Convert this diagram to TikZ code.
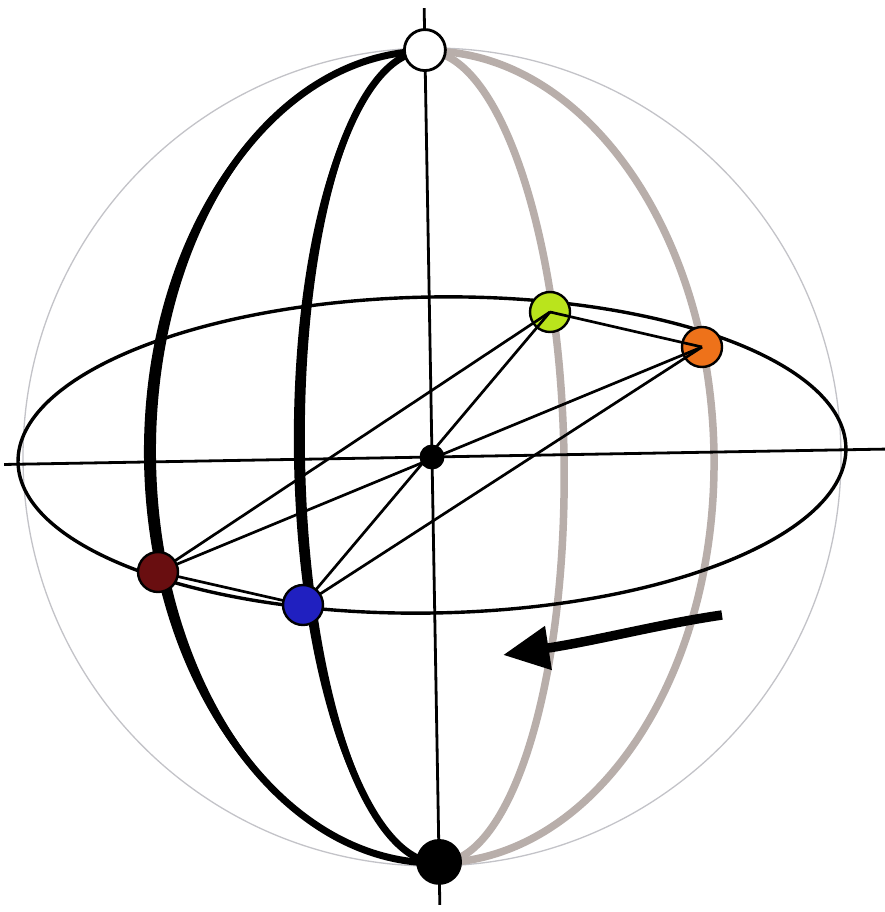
\documentclass[tikz,border=0pt]{standalone}
\usetikzlibrary{arrows.meta}
\definecolor{ballred}{RGB}{105,14,16}
\definecolor{ballblue}{RGB}{32,32,192}
\definecolor{ballgreen}{RGB}{186,228,28}
\definecolor{ballorange}{RGB}{238,114,26}
\definecolor{backgray}{RGB}{184,174,170}
\definecolor{spheregray}{RGB}{195,195,200}
\begin{document}
\begin{tikzpicture}[x=1pt,y=-1pt,
  ball/.style={circle,draw=black,line width=2.4pt,inner sep=0pt,minimum size=40pt},
  pole/.style={circle,draw=black,line width=2.8pt,inner sep=0pt},
  chord/.style={line width=2.7pt,black},
  axisline/.style={line width=2.8pt,black},
  frontmer/.style={line width=7pt,black},
  backmer/.style={line width=7.5pt,backgray},
  turn/.style={line width=9.5pt,black,-{Triangle[length=46pt,width=42pt]}}]
\useasboundingbox (0,0) rectangle (885,912);
\fill[white] (0,0) rectangle (885,912);

\begin{scope}[shift={(432,457)},rotate=1,x=1pt,y=1pt]
  % sphere outline
  \draw[spheregray,line width=1.3pt] (0,0) circle[radius=409];
  % back (grey) halves of the meridians
  \draw[backmer] (0,406) arc[start angle=90,end angle=-90,x radius=132,y radius=406];
  \draw[backmer] (0,406) arc[start angle=90,end angle=-90,x radius=282,y radius=406];
  % axes
  \coordinate (axT) at (0,449);
  \coordinate (axB) at (0,-448);
  \coordinate (axL) at (-428,0);
  \coordinate (axR) at (455,0);
  \draw[axisline] (axT) -- (axB);
  \draw[axisline] (axL) -- (axR);
  % equator
  \draw[line width=3.4pt] (0,2) ellipse[x radius=414,y radius=158];
  % front (black) halves of the meridians, tapering towards the poles
  \fill[black] (0,406) arc[start angle=90,end angle=270,x radius=288,y radius=406]
               arc[start angle=270,end angle=90,x radius=276,y radius=406] -- cycle;
  \fill[black] (0,406) arc[start angle=90,end angle=270,x radius=138,y radius=406]
               arc[start angle=270,end angle=90,x radius=127,y radius=406] -- cycle;
  \draw[frontmer] (0,406) arc[start angle=90,end angle=270,x radius=282,y radius=406];
  \draw[frontmer] (0,406) arc[start angle=90,end angle=270,x radius=132.5,y radius=406];
  \coordinate (Npos) at (0,407);
  \coordinate (Spos) at (0,-405);
\end{scope}

% rotation arrow
\coordinate (arA) at (722,615);
\coordinate (arB) at (503,655);
\draw[turn] (arA) .. controls (660,624) and (600,640) .. (arB);

% balls behind the chords
\node[ball,fill=ballgreen] (G) at (550,312) {};
\node[ball,fill=ballorange] (O) at (702,347) {};

% chords
\draw[chord] (G.center) -- (O.center);
\draw[chord] (158,572) coordinate (Rc) -- (O.center);
\draw[chord] (303,605) coordinate (Bc) -- (G.center);
\draw[chord] (Rc) -- (G.center);
\draw[chord] (Bc) -- (O.center);
\draw[chord] (Rc) -- (Bc);

% balls in front
\node[ball,fill=ballred] (R) at (Rc) {};
\node[ball,fill=ballblue] (B) at (Bc) {};
\node[circle,fill=black,inner sep=0pt,minimum size=25pt] (C) at (432,457) {};
\node[pole,fill=white,minimum size=41pt] (N) at (Npos) {};
\node[pole,fill=black,minimum size=43pt] (S) at (Spos) {};
\end{tikzpicture}
\end{document}
